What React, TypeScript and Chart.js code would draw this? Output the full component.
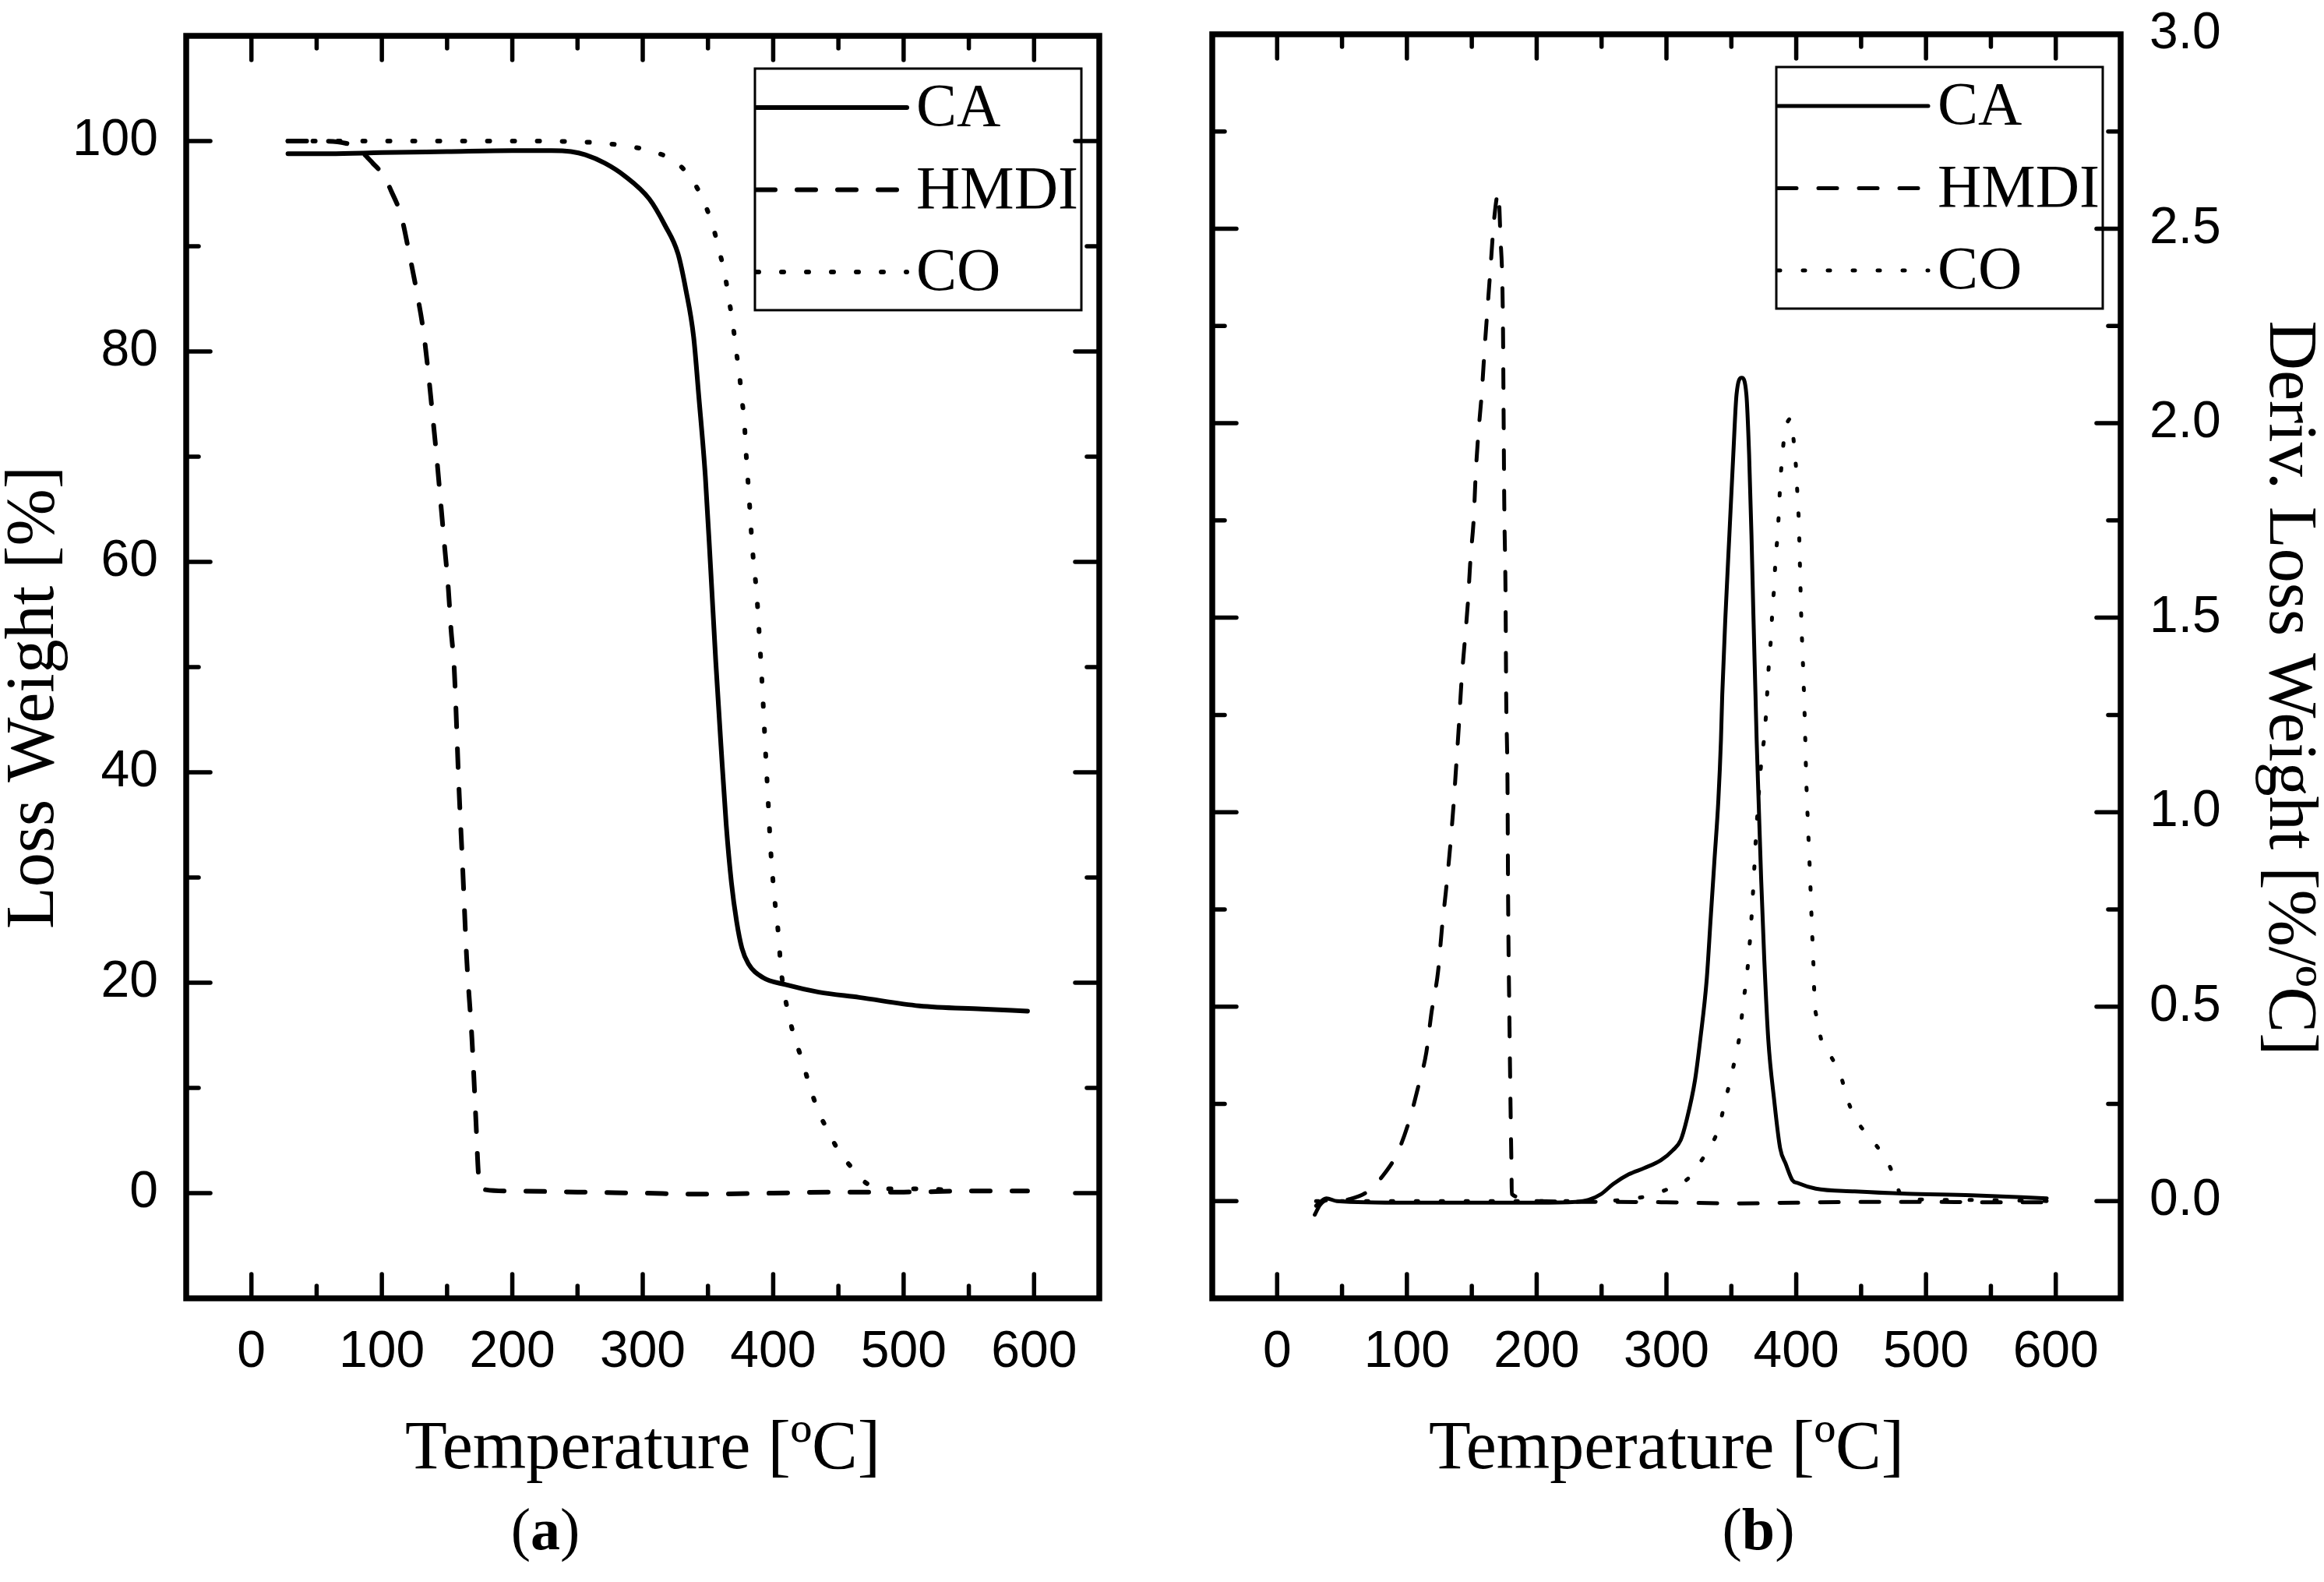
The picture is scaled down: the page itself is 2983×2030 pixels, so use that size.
import { useEffect, useRef } from "react";
import { Chart, registerables } from "chart.js";

Chart.register(...registerables);

const HEIGHT = 2030;

// shared temperature axis
const xTicks = [0, 100, 200, 300, 400, 500, 600];
const xMinorTicks = [50, 150, 250, 350, 450, 550];

// (a) loss weight axis
const weightTicks = [0, 20, 40, 60, 80, 100];
const weightMinorTicks = [10, 30, 50, 70, 90];

// (b) derivative axis
const derivTicks = [0, 0.5, 1, 1.5, 2, 2.5, 3];
const derivMinorTicks = [0.25, 0.75, 1.25, 1.75, 2.25, 2.75];

const seriesLabels = ["CA", "HMDI", "CO"];

// (a) TGA curves
const caTempA = [28, 60, 100, 150, 200, 230, 245, 256, 271, 286, 305, 317, 327, 333, 339, 343, 348, 352, 356, 360, 364, 368, 372, 376, 381, 392, 410, 435, 466, 512, 560, 595];
const caWeight = [98.8, 98.8, 98.9, 99.0, 99.1, 99.1, 99.0, 98.7, 97.9, 96.7, 94.5, 92.0, 89.3, 85.9, 81.4, 75.7, 68.1, 59.5, 50.5, 42.5, 35.0, 29.5, 25.8, 23.3, 21.8, 20.5, 19.8, 19.1, 18.6, 17.8, 17.5, 17.3];

const hmdiTempA = [28, 50, 72, 85, 93, 102, 107, 115, 121, 127, 132, 136, 139, 142, 145, 148, 151, 153, 155.5, 159, 162, 165, 169, 172, 174, 176, 200, 250, 300, 343, 400, 450, 500, 550, 595];
const hmdiWeight = [100, 100, 99.8, 98.9, 97.9, 96.6, 95.3, 92.8, 89.3, 85.5, 81.8, 77.5, 73.8, 70.0, 65.8, 61.6, 57.4, 53.6, 49.8, 38.8, 30.8, 22.4, 14.8, 7.2, 1.9, 0.4, 0.2, 0.1, 0.0, -0.1, 0.0, 0.1, 0.1, 0.2, 0.2];

const coTempA = [28, 100, 200, 256, 277, 294, 308, 323, 333, 341, 348, 354, 359, 363, 366, 369, 371.5, 374, 376, 378, 379, 381.5, 384, 387.5, 390, 392, 394, 396, 398, 401, 404, 406, 409, 412, 416, 421.5, 426, 430.5, 436, 443, 450.6, 459, 468, 475, 492, 512, 535];
const coWeight = [100, 100, 100, 99.9, 99.7, 99.4, 99.0, 98.2, 97.1, 95.7, 93.9, 91.8, 89.4, 87.3, 85.0, 82.7, 80.2, 77.9, 75.5, 73.1, 70.8, 66.2, 61.4, 56.7, 51.7, 47.3, 42.3, 37.6, 32.8, 28.1, 24.6, 21.3, 18.7, 16.9, 14.9, 12.9, 11.0, 9.2, 7.4, 5.7, 3.9, 2.6, 1.3, 0.7, 0.4, 0.4, 0.3];

// (b) DTG curves
const caTempB = [30, 34, 38, 46, 100, 150, 200, 230, 240, 249.6, 259, 271, 283, 295.6, 305, 311, 315.6, 322, 326, 331, 334, 337, 340, 342, 343, 345.5, 348.5, 351.5, 354, 358, 361.6, 363.7, 365.5, 367, 368.6, 369.5, 371, 373, 375.4, 378.5, 383, 387.6, 392, 397, 401.5, 415, 445, 485, 535, 593];
const caDeriv = [-0.012, 0.0, 0.007, 0.0, -0.004, -0.004, -0.004, -0.002, 0.003, 0.018, 0.044, 0.069, 0.085, 0.105, 0.131, 0.157, 0.209, 0.311, 0.414, 0.569, 0.723, 0.877, 1.031, 1.186, 1.302, 1.507, 1.714, 1.919, 2.074, 2.117, 2.074, 1.919, 1.714, 1.507, 1.302, 1.186, 1.031, 0.826, 0.62, 0.414, 0.26, 0.136, 0.095, 0.054, 0.046, 0.032, 0.025, 0.019, 0.015, 0.007];

const hmdiTempB = [29, 33, 38, 44, 56, 69, 82.6, 93, 102, 108.5, 115, 119, 124, 127, 130, 133, 136, 138, 140, 142, 144.5, 147, 149, 151.5, 153, 155, 157.6, 160, 162, 164.5, 167, 170.5, 172, 174, 174.5, 175, 176, 176.5, 177.5, 178, 179, 180, 180.6, 180.8, 191, 200, 250, 300, 350, 400, 450, 500, 550, 595];
const hmdiDeriv = [-0.035, -0.01, 0.002, 0.001, 0.005, 0.023, 0.07, 0.126, 0.209, 0.291, 0.383, 0.486, 0.59, 0.702, 0.795, 0.898, 1.021, 1.12, 1.22, 1.333, 1.436, 1.539, 1.652, 1.755, 1.868, 1.971, 2.074, 2.197, 2.29, 2.403, 2.517, 2.593, 2.485, 2.26, 2.033, 1.8, 1.56, 1.3, 1.08, 0.77, 0.465, 0.209, 0.08, 0.018, 0.008, 0.0, -0.002, -0.003, -0.006, -0.004, -0.002, -0.002, -0.003, -0.003];

const coTempB = [30, 100, 200, 250, 271, 288, 303, 317, 326, 335, 340.7, 344.7, 349.3, 353.3, 357, 359, 361.6, 364.6, 367, 369, 373.4, 375.4, 376.8, 377.9, 379, 380.6, 381.6, 383, 384, 385.5, 386.7, 387.6, 389, 391, 396, 398.3, 400, 401, 402, 403, 404, 405.5, 406.7, 407.6, 409, 410.6, 412, 413.5, 414, 416, 420, 427.6, 434.6, 439, 444, 451.6, 461, 470.7, 476.5, 480, 490, 520, 560, 595];
const coDeriv = [0, 0, 0, 0, 0.005, 0.015, 0.034, 0.059, 0.1, 0.146, 0.193, 0.249, 0.313, 0.373, 0.44, 0.507, 0.569, 0.682, 0.811, 0.939, 1.14, 1.194, 1.256, 1.322, 1.385, 1.451, 1.518, 1.58, 1.647, 1.708, 1.776, 1.842, 1.904, 1.971, 2.012, 1.945, 1.878, 1.811, 1.746, 1.615, 1.487, 1.353, 1.224, 1.1, 0.97, 0.841, 0.712, 0.584, 0.524, 0.47, 0.407, 0.367, 0.319, 0.267, 0.223, 0.183, 0.146, 0.099, 0.052, 0.02, 0.005, 0.003, 0.002, 0.0];

const pts = (xs: number[], ys: number[]) => xs.map((x, i) => ({ x, y: ys[i] }));

const serif = "'Liberation Serif', 'Times New Roman', serif";
const tickFont = { family: "'Liberation Sans', Arial, sans-serif", size: 66 };
const titleFont = { family: serif, size: 88, lineHeight: 1 };

const dashes = [[], [24, 28], [3, 29]];

function makeDatasets(series: { x: number; y: number }[][], width: number) {
  return series.map((data, i) => ({
    label: seriesLabels[i],
    data,
    borderColor: "#000",
    borderWidth: width,
    borderDash: dashes[i],
    borderCapStyle: "round",
    borderJoinStyle: "round",
    cubicInterpolationMode: "monotone",
    pointRadius: 0,
    fill: false,
  }));
}

// box frame with inward major/minor ticks on all four sides
function framePlugin(xMinor: number[], yMinor: number[]) {
  return {
    id: "frame",
    afterDraw(chart: any) {
      const { ctx, chartArea: a, scales } = chart;
      const xs = scales.x;
      const ys = scales.y;
      ctx.save();
      ctx.strokeStyle = "#000";
      ctx.lineCap = "round";
      ctx.lineWidth = 5.5;
      const line = (x1: number, y1: number, x2: number, y2: number) => {
        ctx.beginPath();
        ctx.moveTo(x1, y1);
        ctx.lineTo(x2, y2);
        ctx.stroke();
      };
      const xTick = (v: number, len: number) => {
        const px = xs.getPixelForValue(v);
        line(px, a.bottom, px, a.bottom - len);
        line(px, a.top, px, a.top + len);
      };
      const yTick = (v: number, len: number) => {
        const py = ys.getPixelForValue(v);
        line(a.left, py, a.left + len, py);
        line(a.right, py, a.right - len, py);
      };
      xs.ticks.forEach((t: any) => xTick(t.value, 31));
      xMinor.forEach((v) => xTick(v, 16));
      ys.ticks.forEach((t: any) => yTick(t.value, 31));
      yMinor.forEach((v) => yTick(v, 16));
      ctx.lineCap = "square";
      ctx.lineWidth = 7.5;
      ctx.strokeRect(a.left, a.top, a.right - a.left, a.bottom - a.top);
      ctx.restore();
    },
  };
}

const legendPlugin = {
  id: "boxLegend",
  afterDraw(chart: any) {
    const { ctx, chartArea: a } = chart;
    const left = a.right - 442;
    const top = a.top + 42;
    ctx.save();
    ctx.strokeStyle = "#000";
    ctx.lineWidth = 3;
    ctx.setLineDash([]);
    ctx.strokeRect(left, top, 419, 310);
    chart.data.datasets.forEach((ds: any, i: number) => {
      const y = top + 50 + i * 105.5;
      ctx.beginPath();
      ctx.setLineDash(ds.borderDash);
      ctx.lineCap = ds.borderCapStyle;
      ctx.lineWidth = ds.borderWidth;
      ctx.moveTo(left + 2, y);
      ctx.lineTo(left + 195, y);
      ctx.stroke();
      ctx.setLineDash([]);
      ctx.fillStyle = "#000";
      ctx.font = `78px ${serif}`;
      ctx.textBaseline = "middle";
      ctx.textAlign = "left";
      ctx.fillText(ds.label, left + 207, y + 3);
    });
    ctx.restore();
  },
};

// rotated value-axis title, placed relative to the plot area
function sideTitlePlugin(text: string, x: number, dy: number, angle: number) {
  return {
    id: "sideTitle",
    afterDraw(chart: any) {
      const { ctx, chartArea: a } = chart;
      ctx.save();
      ctx.translate(x, (a.top + a.bottom) / 2 + dy);
      ctx.rotate(angle);
      ctx.fillStyle = "#000";
      ctx.font = `88px ${serif}`;
      ctx.textAlign = "center";
      ctx.textBaseline = "middle";
      ctx.fillText(text, 0, 0);
      ctx.restore();
    },
  };
}

function captionPlugin(letter: string, cx: number) {
  return {
    id: "caption",
    afterDraw(chart: any) {
      const { ctx } = chart;
      ctx.save();
      ctx.fillStyle = "#000";
      ctx.textBaseline = "alphabetic";
      ctx.textAlign = "left";
      const reg = `76px ${serif}`;
      const bold = `bold 76px ${serif}`;
      ctx.font = reg;
      const wp = ctx.measureText("(").width;
      const wq = ctx.measureText(")").width;
      ctx.font = bold;
      const wl = ctx.measureText(letter).width;
      let x = cx - (wp + wl + wq) / 2;
      const y = 1988;
      ctx.font = reg;
      ctx.fillText("(", x, y);
      x += wp;
      ctx.font = bold;
      ctx.fillText(letter, x, y);
      x += wl;
      ctx.font = reg;
      ctx.fillText(")", x, y);
      ctx.restore();
    },
  };
}

// keep Chart.js from growing the plot area for label overhang
const noOverhang = (s: any) => {
  s.paddingTop = 0;
  s.paddingBottom = 0;
  s.paddingLeft = 0;
  s.paddingRight = 0;
};

const xScale = {
  type: "linear",
  min: -50,
  max: 650,
  grid: { display: false, drawTicks: false },
  border: { display: false },
  afterBuildTicks: (s: any) => {
    s.ticks = xTicks.map((value) => ({ value }));
  },
  afterFit: (s: any) => {
    s.height = 364;
    noOverhang(s);
  },
  ticks: { color: "#000", font: tickFont, padding: 30, maxRotation: 0, autoSkip: false },
  title: { display: true, text: "Temperature [ºC]", color: "#000", font: titleFont, padding: { top: 0, bottom: 125 } },
};

function configA(): any {
  return {
    type: "line",
    data: {
      datasets: makeDatasets([pts(caTempA, caWeight), pts(hmdiTempA, hmdiWeight), pts(coTempA, coWeight)], 6),
    },
    options: {
      responsive: false,
      animation: false,
      devicePixelRatio: 1,
      layout: { padding: { left: 0, right: 79, top: 46, bottom: 0 } },
      plugins: { legend: { display: false }, tooltip: { enabled: false } },
      scales: {
        x: xScale,
        y: {
          type: "linear",
          position: "left",
          min: -10,
          max: 110,
          grid: { display: false, drawTicks: false },
          border: { display: false },
          afterBuildTicks: (s: any) => {
            s.ticks = weightTicks.map((value) => ({ value }));
          },
          afterFit: (s: any) => {
            s.width = 239;
            noOverhang(s);
          },
          ticks: { color: "#000", font: tickFont, padding: 36 },
        },
      },
    },
    plugins: [
      framePlugin(xMinorTicks, weightMinorTicks),
      legendPlugin,
      sideTitlePlugin("Loss Weight [%]", 45, 39, -Math.PI / 2),
      captionPlugin("a", 700),
    ],
  };
}

function configB(): any {
  return {
    type: "line",
    data: {
      datasets: makeDatasets([pts(caTempB, caDeriv), pts(hmdiTempB, hmdiDeriv), pts(coTempB, coDeriv)], 5),
    },
    options: {
      responsive: false,
      animation: false,
      devicePixelRatio: 1,
      layout: { padding: { left: 66, right: 0, top: 44, bottom: 0 } },
      plugins: { legend: { display: false }, tooltip: { enabled: false } },
      scales: {
        x: xScale,
        y: {
          type: "linear",
          position: "right",
          min: -0.25,
          max: 3,
          grid: { display: false, drawTicks: false },
          border: { display: false },
          afterBuildTicks: (s: any) => {
            s.ticks = derivTicks.map((value) => ({ value }));
          },
          afterFit: (s: any) => {
            s.width = 261;
            noOverhang(s);
          },
          ticks: { color: "#000", font: tickFont, padding: 37, callback: (v: number) => v.toFixed(1) },
        },
      },
    },
    plugins: [
      framePlugin(xMinorTicks, derivMinorTicks),
      legendPlugin,
      sideTitlePlugin("Deriv. Loss Weight [%/ºC]", 1447, 28, Math.PI / 2),
      captionPlugin("b", 767),
    ],
  };
}

function Panel({ left, width, config }: { left: number; width: number; config: () => any }) {
  const canvasRef = useRef<HTMLCanvasElement | null>(null);

  useEffect(() => {
    if (!canvasRef.current) return;
    const chart = new Chart(canvasRef.current, config());
    return () => {
      chart.destroy();
    };
  }, [config]);

  return (
    <canvas
      ref={canvasRef}
      width={width}
      height={HEIGHT}
      style={{ position: "absolute", left, top: 0, width, height: HEIGHT }}
    ></canvas>
  );
}

export default function App() {
  return (
    <div style={{ position: "absolute", left: 0, top: 0, width: 2983, height: HEIGHT, background: "#fff" }}>
      <Panel left={0} width={1490} config={configA} />
      <Panel left={1490} width={1493} config={configB} />
    </div>
  );
}
